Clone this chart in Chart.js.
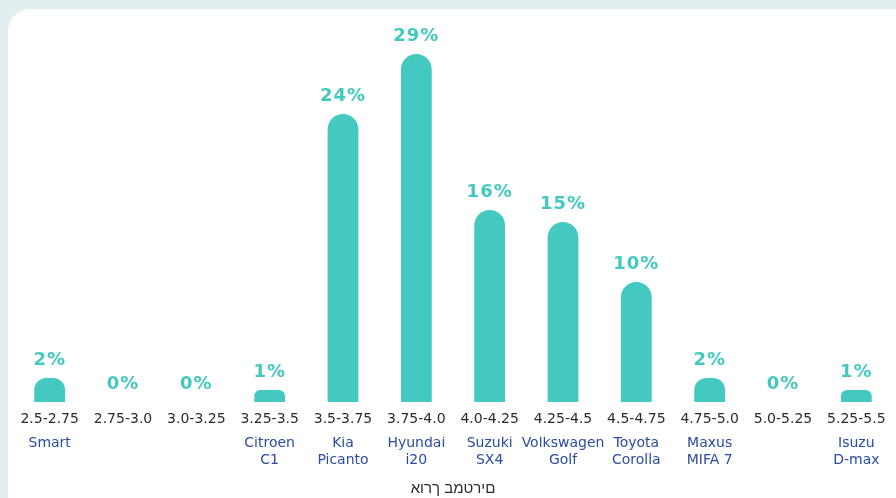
<!DOCTYPE html>
<html>
<head>
<meta charset="utf-8">
<script src="https://cdn.jsdelivr.net/npm/chart.js@4/dist/chart.umd.min.js"></script>
<style>
  html, body { margin: 0; padding: 0; }
  body { width: 896px; height: 498px; background: #e2eeef; overflow: hidden; position: relative; }
  .card { position: absolute; left: 8px; top: 9px; width: 920px; height: 520px; background: #fff; border-radius: 22px; }
  #wrap { position: absolute; left: 0; top: 0; width: 896px; height: 498px; }
</style>
</head>
<body>
<div class="card"></div>
<div id="wrap"><canvas id="myChart"></canvas></div>
<script>
const ranges = ['2.5-2.75', '2.75-3.0', '3.0-3.25', '3.25-3.5', '3.5-3.75', '3.75-4.0', '4.0-4.25', '4.25-4.5', '4.5-4.75', '4.75-5.0', '5.0-5.25', '5.25-5.5'];
const cars = [['Smart'], [''], [''], ['Citroen', 'C1'], ['Kia', 'Picanto'], ['Hyundai', 'i20'], ['Suzuki', 'SX4'], ['Volkswagen', 'Golf'], ['Toyota', 'Corolla'], ['Maxus', 'MIFA 7'], [''], ['Isuzu', 'D-max']];
const shares = [2, 0, 0, 1, 24, 29, 16, 15, 10, 2, 0, 1];
const axisTitle = 'אורך במטרים';

const teal = '#43c9bf';
const fontFamily = '"DejaVu Sans", sans-serif';

// percentage labels above each bar
const valueLabels = {
  id: 'valueLabels',
  afterDatasetsDraw(chart) {
    const ctx = chart.ctx;
    const meta = chart.getDatasetMeta(0);
    ctx.save();
    ctx.fillStyle = teal;
    ctx.font = 'bold 18px ' + fontFamily;
    ctx.letterSpacing = '1px';
    ctx.textAlign = 'center';
    ctx.textBaseline = 'middle';
    meta.data.forEach((bar, i) => {
      ctx.fillText(shares[i] + '%', bar.x, bar.y - 18);
    });
    ctx.restore();
  }
};

const ctx = document.getElementById('myChart').getContext('2d');
new Chart(ctx, {
  type: 'bar',
  data: {
    labels: ranges,
    datasets: [{
      data: shares,
      backgroundColor: teal,
      borderRadius: { topLeft: 16, topRight: 16 },
      borderSkipped: 'bottom',
      categoryPercentage: 1,
      barPercentage: 0.42
    }]
  },
  options: {
    responsive: true,
    maintainAspectRatio: false,
    animation: false,
    layout: { padding: { top: 42, left: 13, right: 3, bottom: 0 } },
    plugins: {
      legend: { display: false },
      tooltip: { enabled: false }
    },
    scales: {
      y: { display: false, min: 0, max: 30 },
      x: {
        grid: { display: false, drawTicks: false },
        border: { display: false },
        ticks: { color: '#2b2b2b', font: { size: 14, family: fontFamily }, padding: 9, maxRotation: 0, autoSkip: false }
      },
      x2: {
        type: 'category',
        position: 'bottom',
        labels: cars,
        grid: { display: false, drawTicks: false },
        border: { display: false },
        ticks: { color: '#2c4ba2', font: { size: 14, family: fontFamily, lineHeight: 1.15 }, padding: -1, maxRotation: 0, autoSkip: false },
        title: {
          display: true,
          // original shows the words laid out left to right
          text: '\u202D' + axisTitle + '\u202C',
          color: '#2b2b2b',
          font: { size: 15, family: '"Liberation Sans", sans-serif' },
          padding: { top: 13, bottom: 0 }
        }
      }
    }
  },
  plugins: [valueLabels]
});
</script>
</body>
</html>
